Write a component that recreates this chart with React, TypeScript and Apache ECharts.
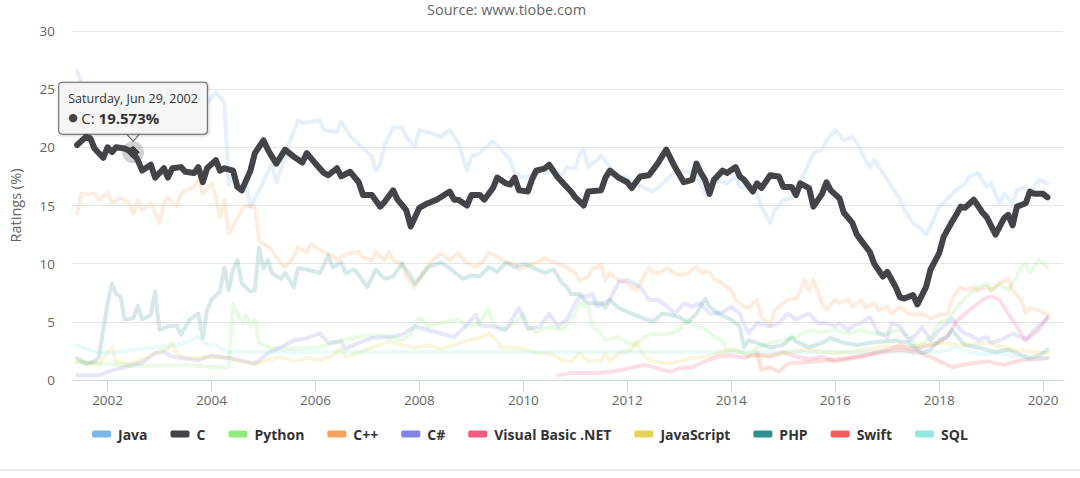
import React, { useEffect, useRef } from "react";
import * as echarts from "echarts";

const SUBTITLE = "Source: www.tiobe.com";
const Y_TITLE = "Ratings (%)";
const TOOLTIP_DATE = "Saturday, Jun 29, 2002";
const TOOLTIP_SERIES = "C";
const TOOLTIP_POINT: [string, number] = ["2002-06-29", 19.573];
const TICK_YEARS = [2002, 2004, 2006, 2008, 2010, 2012, 2014, 2016, 2018, 2020];
const X_MIN = "2001-04-26";
const X_MAX = "2020-05-20";
const Y_MIN = 0;
const Y_MAX = 30;
const Y_STEP = 5;

const NAMES = ["Java", "C", "Python", "C++", "C#", "Visual Basic .NET", "JavaScript", "PHP", "Swift", "SQL"];
const COLORS = ["#7cb5ec", "#434348", "#90ed7d", "#f7a35c", "#8085e9", "#f15c80", "#e4d354", "#2b908f", "#f45b5b", "#91e8e1"];

type P = [string, number];

const JAVA: P[] = [
  ["2001-06", 26.6], ["2001-07", 25.5], ["2001-10", 24.8], ["2002-02", 24.4], ["2002-07", 23.9], ["2002-12", 24.2],
  ["2003-05", 24.6], ["2003-09", 24.0], ["2003-11", 24.4], ["2003-12", 23.8], ["2004-02", 24.7], ["2004-03", 24.3],
  ["2004-04", 23.8], ["2004-05", 16.8], ["2004-06", 17.5], ["2004-08", 16.4], ["2004-09", 16.9], ["2004-10", 14.9],
  ["2004-12", 16.3], ["2005-03", 18.6], ["2005-04", 17.0], ["2005-05", 18.0], ["2005-07", 20.4], ["2005-09", 22.3],
  ["2005-10", 22.1], ["2005-12", 22.2], ["2006-02", 22.3], ["2006-03", 21.5], ["2006-06", 21.3], ["2006-07", 22.2],
  ["2006-09", 21.0], ["2006-12", 19.9], ["2007-02", 19.2], ["2007-03", 18.0], ["2007-04", 18.6], ["2007-05", 20.2],
  ["2007-07", 21.7], ["2007-09", 21.7], ["2007-10", 20.9], ["2007-12", 20.0], ["2008-01", 21.5], ["2008-04", 21.2],
  ["2008-06", 20.9], ["2008-08", 21.5], ["2008-09", 20.9], ["2008-10", 20.4], ["2008-12", 18.0], ["2009-01", 19.2],
  ["2009-03", 19.5], ["2009-04", 19.9], ["2009-06", 20.5], ["2009-08", 19.8], ["2009-10", 18.9], ["2009-11", 17.8],
  ["2010-01", 17.4], ["2010-03", 17.6], ["2010-04", 18.0], ["2010-06", 17.8], ["2010-07", 18.0], ["2010-10", 17.6],
  ["2010-11", 18.3], ["2011-01", 18.2], ["2011-02", 19.4], ["2011-03", 19.8], ["2011-04", 18.3], ["2011-06", 18.9],
  ["2011-07", 19.3], ["2011-09", 18.3], ["2011-11", 17.5], ["2012-01", 17.4], ["2012-03", 16.9], ["2012-05", 16.5],
  ["2012-07", 16.2], ["2012-10", 17.2], ["2012-12", 17.9], ["2013-02", 18.0], ["2013-05", 17.6], ["2013-07", 16.0],
  ["2013-08", 16.2], ["2013-10", 17.2], ["2013-12", 16.9], ["2014-02", 17.5], ["2014-03", 16.6], ["2014-06", 16.5],
  ["2014-07", 16.0], ["2014-08", 14.9], ["2014-10", 13.5], ["2014-11", 14.6], ["2015-01", 15.5], ["2015-03", 15.6],
  ["2015-04", 16.6], ["2015-06", 17.8], ["2015-08", 19.5], ["2015-10", 19.8], ["2015-11", 20.6], ["2016-01", 21.5],
  ["2016-03", 20.6], ["2016-05", 20.9], ["2016-06", 20.4], ["2016-08", 18.9], ["2016-09", 18.3], ["2016-10", 18.9],
  ["2016-12", 17.8], ["2017-02", 16.6], ["2017-04", 15.5], ["2017-05", 14.6], ["2017-07", 13.5], ["2017-09", 12.9],
  ["2017-10", 12.5], ["2017-11", 13.2], ["2018-01", 14.9], ["2018-02", 15.2], ["2018-04", 16.0], ["2018-05", 16.3],
  ["2018-07", 16.9], ["2018-08", 17.5], ["2018-10", 17.8], ["2018-12", 16.6], ["2019-01", 16.9], ["2019-03", 15.2],
  ["2019-04", 16.0], ["2019-06", 15.2], ["2019-07", 16.3], ["2019-09", 16.6], ["2019-10", 16.0], ["2019-12", 17.2],
  ["2020-02", 16.9],
];

const C_LANG: P[] = [
  ["2001-06", 20.2], ["2001-08", 20.9], ["2001-09", 20.8], ["2001-10", 19.9], ["2001-12", 19.1], ["2002-01", 20.0],
  ["2002-02", 19.6], ["2002-03", 20.0], ["2002-05", 19.9], ["2002-06-29", 19.573], ["2002-08", 18.9], ["2002-09", 18.0],
  ["2002-11", 18.5], ["2002-12", 17.4], ["2003-02", 18.2], ["2003-03", 17.4], ["2003-04", 18.2], ["2003-06", 18.3],
  ["2003-07", 17.9], ["2003-09", 17.8], ["2003-10", 18.3], ["2003-11", 17.0], ["2003-12", 18.2], ["2004-02", 18.9],
  ["2004-03", 18.0], ["2004-04", 18.2], ["2004-06", 18.0], ["2004-07", 16.6], ["2004-08", 16.3], ["2004-10", 18.0],
  ["2004-11", 19.5], ["2005-01", 20.6], ["2005-02", 19.8], ["2005-03", 19.2], ["2005-04", 18.6], ["2005-06", 19.8],
  ["2005-08", 19.2], ["2005-10", 18.7], ["2005-11", 19.5], ["2006-01", 18.6], ["2006-03", 17.8], ["2006-04", 17.6],
  ["2006-06", 18.2], ["2006-07", 17.5], ["2006-09", 17.9], ["2006-11", 17.0], ["2006-12", 15.9], ["2007-02", 15.9],
  ["2007-04", 14.9], ["2007-05", 15.3], ["2007-07", 16.3], ["2007-08", 15.5], ["2007-10", 14.6], ["2007-11", 13.2],
  ["2008-01", 14.8], ["2008-03", 15.2], ["2008-05", 15.5], ["2008-08", 16.2], ["2008-09", 15.5], ["2008-10", 15.5],
  ["2008-12", 15.0], ["2009-01", 15.9], ["2009-03", 15.9], ["2009-04", 15.5], ["2009-06", 16.5], ["2009-07", 17.4],
  ["2009-09", 16.9], ["2009-10", 16.8], ["2009-11", 17.4], ["2009-12", 16.3], ["2010-02", 16.2], ["2010-03", 17.2],
  ["2010-04", 18.0], ["2010-06", 18.2], ["2010-07", 18.5], ["2010-09", 17.4], ["2010-10", 17.0], ["2010-12", 16.2],
  ["2011-01", 15.7], ["2011-03", 15.0], ["2011-04", 16.2], ["2011-07", 16.3], ["2011-08", 17.4], ["2011-09", 18.0],
  ["2011-11", 17.4], ["2012-01", 17.0], ["2012-02", 16.5], ["2012-04", 17.5], ["2012-06", 17.6], ["2012-08", 18.6],
  ["2012-10", 19.8], ["2012-12", 18.3], ["2013-02", 17.0], ["2013-04", 17.2], ["2013-05", 18.6], ["2013-06", 17.8],
  ["2013-07", 17.2], ["2013-08", 16.0], ["2013-09", 17.2], ["2013-11", 18.0], ["2013-12", 17.8], ["2014-02", 18.3],
  ["2014-03", 17.5], ["2014-04", 17.2], ["2014-06", 16.2], ["2014-07", 16.9], ["2014-08", 16.5], ["2014-10", 17.6],
  ["2014-12", 17.5], ["2015-01", 16.6], ["2015-03", 16.6], ["2015-04", 15.9], ["2015-05", 16.9], ["2015-07", 16.5],
  ["2015-08", 14.9], ["2015-10", 16.0], ["2015-11", 17.0], ["2015-12", 16.3], ["2016-02", 15.6], ["2016-03", 14.4],
  ["2016-05", 13.5], ["2016-06", 12.5], ["2016-07", 12.0], ["2016-09", 11.0], ["2016-10", 10.0], ["2016-12", 8.9],
  ["2017-01", 9.3], ["2017-03", 8.0], ["2017-04", 7.1], ["2017-05", 7.0], ["2017-07", 7.3], ["2017-08", 6.5],
  ["2017-10", 8.0], ["2017-11", 9.5], ["2018-01", 10.9], ["2018-02", 12.3], ["2018-04", 13.6], ["2018-05", 14.2],
  ["2018-06", 14.9], ["2018-07", 14.8], ["2018-09", 15.5], ["2018-11", 14.4], ["2018-12", 14.0], ["2019-02", 12.5],
  ["2019-04", 13.9], ["2019-05", 14.2], ["2019-06", 13.3], ["2019-07", 14.9], ["2019-09", 15.2], ["2019-10", 16.2],
  ["2019-11", 16.0], ["2020-01", 16.0], ["2020-02", 15.7],
];

const PYTHON: P[] = [
  ["2001-06", 1.5], ["2001-11", 1.4], ["2002-09", 1.2], ["2003-07", 1.3], ["2004-02", 1.1], ["2004-05", 1.1],
  ["2004-06", 6.6], ["2004-08", 4.9], ["2004-09", 5.6], ["2004-10", 4.6], ["2004-11", 5.2], ["2004-12", 3.2],
  ["2005-03", 2.7], ["2005-08", 2.7], ["2006-02", 2.8], ["2006-07", 3.4], ["2006-11", 3.7], ["2007-04", 3.9],
  ["2007-09", 3.4], ["2007-11", 4.0], ["2008-01", 5.4], ["2008-03", 4.6], ["2008-07", 5.0], ["2008-10", 5.2],
  ["2008-12", 4.6], ["2009-03", 4.9], ["2009-05", 6.2], ["2009-06", 4.9], ["2009-08", 4.3], ["2009-11", 4.9],
  ["2010-01", 5.7], ["2010-02", 4.6], ["2010-04", 4.1], ["2010-07", 4.6], ["2010-10", 4.3], ["2011-01", 5.7],
  ["2011-02", 6.6], ["2011-04", 6.3], ["2011-05", 4.6], ["2011-07", 4.0], ["2011-08", 3.4], ["2011-11", 3.7],
  ["2012-01", 3.2], ["2012-03", 3.0], ["2012-05", 3.7], ["2012-07", 4.0], ["2012-09", 3.9], ["2012-11", 4.0],
  ["2013-01", 4.3], ["2013-03", 5.2], ["2013-05", 4.6], ["2013-07", 4.4], ["2013-09", 3.7], ["2013-11", 3.3],
  ["2013-12", 2.6], ["2014-02", 2.6], ["2014-04", 2.3], ["2014-05", 2.0], ["2014-07", 2.8], ["2014-10", 3.2],
  ["2015-01", 3.4], ["2015-04", 3.7], ["2015-07", 4.3], ["2015-10", 4.1], ["2016-01", 4.3], ["2016-04", 4.0],
  ["2016-07", 4.3], ["2016-10", 4.0], ["2017-01", 4.0], ["2017-04", 4.3], ["2017-07", 3.4], ["2017-08", 2.8],
  ["2017-11", 3.7], ["2018-01", 4.9], ["2018-03", 5.2], ["2018-04", 5.7], ["2018-06", 6.6], ["2018-08", 7.4],
  ["2018-09", 7.7], ["2018-12", 8.3], ["2019-01", 7.7], ["2019-03", 8.3], ["2019-05", 7.7], ["2019-07", 8.9],
  ["2019-08", 9.7], ["2019-09", 10.0], ["2019-10", 9.2], ["2019-12", 10.3], ["2020-02", 9.7],
];

const CPP: P[] = [
  ["2001-06", 14.3], ["2001-07", 16.0], ["2001-10", 16.0], ["2001-11", 15.5], ["2002-01", 16.1], ["2002-02", 15.2],
  ["2002-04", 15.7], ["2002-06", 15.2], ["2002-07", 14.3], ["2002-08", 15.5], ["2002-09", 14.6], ["2002-11", 15.2],
  ["2003-01", 13.5], ["2003-02", 15.2], ["2003-03", 15.7], ["2003-05", 14.9], ["2003-06", 16.0], ["2003-07", 16.3],
  ["2003-09", 16.6], ["2003-10", 17.2], ["2003-11", 16.0], ["2004-01", 16.9], ["2004-02", 15.7], ["2004-03", 14.0],
  ["2004-04", 15.5], ["2004-05", 12.6], ["2004-06", 13.2], ["2004-08", 14.6], ["2004-09", 15.0], ["2004-11", 14.9],
  ["2004-12", 12.0], ["2005-01", 11.7], ["2005-03", 11.2], ["2005-05", 10.0], ["2005-06", 9.7], ["2005-08", 10.6],
  ["2005-09", 11.4], ["2005-11", 11.0], ["2005-12", 11.7], ["2006-02", 11.2], ["2006-03", 11.0], ["2006-05", 10.7],
  ["2006-06", 10.3], ["2006-07", 10.6], ["2006-09", 10.9], ["2006-11", 11.0], ["2006-12", 10.5], ["2007-02", 10.3],
  ["2007-03", 11.0], ["2007-05", 10.3], ["2007-06", 11.0], ["2007-07", 10.3], ["2007-09", 10.0], ["2007-10", 8.9],
  ["2007-12", 8.0], ["2008-02", 9.2], ["2008-04", 10.3], ["2008-06", 10.9], ["2008-08", 10.3], ["2008-10", 10.9],
  ["2008-12", 10.0], ["2009-02", 9.7], ["2009-04", 10.3], ["2009-05", 11.0], ["2009-07", 10.6], ["2009-09", 10.1],
  ["2009-11", 10.0], ["2009-12", 9.5], ["2010-02", 9.9], ["2010-04", 10.1], ["2010-06", 10.5], ["2010-07", 10.3],
  ["2010-09", 10.0], ["2010-10", 9.9], ["2011-01", 9.2], ["2011-02", 8.5], ["2011-04", 8.9], ["2011-05", 9.6],
  ["2011-07", 9.9], ["2011-08", 8.6], ["2011-09", 9.2], ["2011-11", 8.6], ["2012-01", 8.3], ["2012-03", 7.7],
  ["2012-04", 8.3], ["2012-06", 9.7], ["2012-07", 9.2], ["2012-09", 9.3], ["2012-10", 9.6], ["2012-12", 9.2],
  ["2013-01", 9.0], ["2013-03", 9.2], ["2013-05", 9.7], ["2013-06", 9.3], ["2013-08", 9.3], ["2013-09", 8.7],
  ["2013-11", 8.3], ["2014-01", 7.7], ["2014-02", 6.9], ["2014-04", 6.3], ["2014-05", 6.2], ["2014-07", 6.9],
  ["2014-08", 5.4], ["2014-10", 4.7], ["2014-11", 6.0], ["2014-12", 6.3], ["2015-02", 6.9], ["2015-04", 7.0],
  ["2015-05", 7.7], ["2015-06", 8.6], ["2015-07", 7.7], ["2015-08", 8.6], ["2015-10", 6.6], ["2015-11", 6.0],
  ["2016-01", 6.9], ["2016-02", 6.6], ["2016-04", 6.9], ["2016-05", 6.3], ["2016-07", 6.9], ["2016-08", 6.2],
  ["2016-10", 6.6], ["2016-11", 6.0], ["2017-01", 6.3], ["2017-02", 5.7], ["2017-04", 6.3], ["2017-06", 5.7],
  ["2017-07", 5.6], ["2017-09", 5.7], ["2017-11", 5.3], ["2018-01", 5.6], ["2018-03", 5.7], ["2018-04", 6.9],
  ["2018-06", 8.0], ["2018-07", 7.7], ["2018-09", 8.0], ["2018-10", 7.7], ["2018-12", 8.0], ["2019-01", 7.7],
  ["2019-03", 8.3], ["2019-05", 8.7], ["2019-06", 7.7], ["2019-08", 6.9], ["2019-09", 5.7], ["2019-10", 6.2],
  ["2019-12", 6.0], ["2020-02", 5.6],
];

const CSHARP: P[] = [
  ["2001-06", 0.4], ["2001-11", 0.4], ["2002-01", 0.7], ["2002-05", 1.1], ["2002-09", 1.5], ["2002-12", 2.3],
  ["2003-02", 2.4], ["2003-04", 2.0], ["2003-06", 1.9], ["2003-10", 1.7], ["2004-01", 2.1], ["2004-05", 1.9],
  ["2004-11", 1.4], ["2005-02", 2.3], ["2005-05", 2.8], ["2005-08", 3.4], ["2005-11", 3.6], ["2006-02", 4.0],
  ["2006-04", 3.2], ["2006-07", 3.3], ["2006-08", 2.7], ["2006-11", 3.2], ["2007-02", 3.6], ["2007-06", 3.7],
  ["2007-09", 3.9], ["2007-12", 4.6], ["2008-03", 4.3], ["2008-06", 4.0], ["2008-09", 3.7], ["2008-11", 4.4],
  ["2009-02", 5.6], ["2009-03", 4.7], ["2009-06", 4.6], ["2009-09", 4.3], ["2009-12", 6.2], ["2010-02", 4.4],
  ["2010-05", 4.6], ["2010-07", 5.7], ["2010-09", 4.6], ["2010-11", 5.2], ["2011-01", 6.6], ["2011-02", 7.2],
  ["2011-04", 7.2], ["2011-05", 7.4], ["2011-06", 6.3], ["2011-09", 6.9], ["2011-11", 8.4], ["2012-01", 8.6],
  ["2012-04", 8.0], ["2012-06", 6.9], ["2012-08", 6.9], ["2012-10", 6.4], ["2012-12", 5.7], ["2013-02", 6.6],
  ["2013-04", 6.3], ["2013-06", 6.6], ["2013-08", 5.7], ["2013-11", 5.8], ["2014-01", 6.3], ["2014-03", 5.7],
  ["2014-05", 4.0], ["2014-07", 4.9], ["2014-10", 4.6], ["2014-12", 4.9], ["2015-02", 5.7], ["2015-04", 5.2],
  ["2015-05", 5.4], ["2015-07", 5.7], ["2015-09", 4.9], ["2015-11", 4.9], ["2016-01", 4.6], ["2016-02", 4.9],
  ["2016-04", 4.3], ["2016-05", 4.6], ["2016-07", 4.9], ["2016-09", 5.4], ["2016-11", 4.0], ["2017-01", 3.7],
  ["2017-02", 4.9], ["2017-04", 4.6], ["2017-06", 3.4], ["2017-08", 4.0], ["2017-09", 4.6], ["2017-11", 3.4],
  ["2018-01", 4.3], ["2018-03", 4.9], ["2018-04", 5.3], ["2018-06", 4.3], ["2018-07", 4.0], ["2018-09", 3.7],
  ["2018-10", 3.4], ["2018-12", 3.7], ["2019-01", 3.2], ["2019-03", 3.4], ["2019-06", 4.0], ["2019-09", 3.5],
  ["2019-11", 4.3], ["2020-02", 5.3],
];

const VBNET: P[] = [
  ["2010-09", 0.4], ["2010-12", 0.6], ["2011-02", 0.6], ["2011-06", 0.6], ["2011-09", 0.7], ["2011-12", 0.9],
  ["2012-05", 1.3], ["2012-08", 1.0], ["2012-11", 0.7], ["2013-01", 1.0], ["2013-04", 1.1], ["2013-07", 1.6],
  ["2013-10", 2.0], ["2014-01", 2.1], ["2014-04", 1.9], ["2014-07", 2.2], ["2014-10", 2.0], ["2015-01", 2.4],
  ["2015-04", 2.0], ["2015-07", 1.8], ["2015-10", 2.0], ["2016-01", 1.6], ["2016-04", 1.8], ["2016-07", 2.0],
  ["2016-10", 2.3], ["2017-01", 2.6], ["2017-04", 3.0], ["2017-07", 2.6], ["2017-10", 2.9], ["2018-01", 3.2],
  ["2018-03", 3.8], ["2018-05", 5.0], ["2018-07", 5.7], ["2018-09", 6.3], ["2018-11", 6.9], ["2019-01", 7.2],
  ["2019-03", 6.9], ["2019-05", 5.7], ["2019-07", 4.6], ["2019-09", 3.4], ["2019-12", 4.3], ["2020-02", 5.4],
];

const JAVASCRIPT: P[] = [
  ["2001-06", 1.6], ["2001-11", 1.4], ["2002-02", 2.8], ["2002-03", 1.6], ["2002-06", 1.4], ["2002-09", 1.7],
  ["2002-12", 2.3], ["2003-03", 2.7], ["2003-04", 3.2], ["2003-05", 2.3], ["2003-07", 1.9], ["2003-10", 1.9],
  ["2004-01", 2.0], ["2004-05", 1.9], ["2004-08", 1.6], ["2004-11", 1.4], ["2005-02", 1.7], ["2005-05", 2.0],
  ["2005-08", 1.6], ["2005-11", 1.9], ["2006-02", 1.7], ["2006-05", 2.1], ["2006-07", 2.7], ["2006-08", 2.0],
  ["2006-11", 2.3], ["2007-02", 2.8], ["2007-06", 3.3], ["2007-09", 3.0], ["2007-12", 2.8], ["2008-03", 3.0],
  ["2008-06", 2.7], ["2008-09", 3.0], ["2008-12", 3.4], ["2009-03", 3.6], ["2009-05", 4.0], ["2009-07", 3.4],
  ["2009-08", 2.8], ["2009-11", 2.8], ["2010-02", 2.6], ["2010-04", 2.3], ["2010-07", 2.3], ["2010-10", 1.7],
  ["2010-12", 1.6], ["2011-02", 2.3], ["2011-04", 1.6], ["2011-07", 1.7], ["2011-08", 2.3], ["2011-09", 1.6],
  ["2011-11", 2.3], ["2012-02", 2.6], ["2012-03", 3.3], ["2012-05", 2.0], ["2012-07", 1.6], ["2012-10", 1.4],
  ["2013-01", 1.6], ["2013-04", 1.9], ["2013-07", 2.0], ["2013-10", 2.3], ["2014-01", 2.6], ["2014-04", 2.3],
  ["2014-08", 2.0], ["2015-01", 2.3], ["2015-06", 2.6], ["2016-01", 2.3], ["2016-06", 2.5], ["2017-01", 2.9],
  ["2017-06", 2.8], ["2018-01", 3.2], ["2018-06", 3.0], ["2018-12", 3.2], ["2019-06", 2.6], ["2020-02", 2.3],
];

const PHP: P[] = [
  ["2001-06", 1.9], ["2001-08", 1.4], ["2001-10", 1.6], ["2001-11", 2.0], ["2002-01", 6.6], ["2002-02", 8.3],
  ["2002-03", 7.4], ["2002-04", 7.2], ["2002-05", 5.2], ["2002-07", 5.3], ["2002-08", 6.4], ["2002-09", 5.2],
  ["2002-11", 5.6], ["2002-12", 7.6], ["2003-01", 4.3], ["2003-03", 4.6], ["2003-05", 4.7], ["2003-06", 3.9],
  ["2003-08", 5.2], ["2003-10", 5.7], ["2003-11", 3.6], ["2003-12", 6.0], ["2004-01", 6.9], ["2004-03", 7.6],
  ["2004-04", 9.7], ["2004-05", 7.7], ["2004-06", 9.5], ["2004-07", 10.3], ["2004-08", 8.3], ["2004-10", 7.6],
  ["2004-11", 7.7], ["2004-12", 11.4], ["2005-01", 9.6], ["2005-02", 10.3], ["2005-03", 9.2], ["2005-05", 8.7],
  ["2005-06", 9.2], ["2005-08", 8.0], ["2005-09", 9.6], ["2005-11", 9.5], ["2006-02", 9.2], ["2006-04", 10.7],
  ["2006-05", 9.7], ["2006-07", 10.1], ["2006-08", 9.2], ["2006-10", 9.5], ["2007-01", 8.0], ["2007-03", 9.5],
  ["2007-05", 8.7], ["2007-07", 8.9], ["2007-09", 10.0], ["2007-11", 8.9], ["2007-12", 8.3], ["2008-03", 9.7],
  ["2008-06", 10.1], ["2008-08", 9.6], ["2008-11", 8.7], ["2009-01", 9.0], ["2009-03", 8.9], ["2009-05", 9.7],
  ["2009-07", 9.3], ["2009-09", 10.1], ["2009-11", 9.7], ["2010-01", 10.0], ["2010-03", 9.7], ["2010-06", 9.2],
  ["2010-08", 9.5], ["2010-10", 8.3], ["2010-11", 8.0], ["2010-12", 7.4], ["2011-02", 7.4], ["2011-03", 6.9],
  ["2011-04", 6.6], ["2011-07", 6.6], ["2011-08", 6.2], ["2011-09", 6.9], ["2011-11", 6.2], ["2012-02", 5.7],
  ["2012-04", 5.4], ["2012-07", 5.0], ["2012-09", 5.7], ["2012-11", 5.6], ["2013-01", 5.4], ["2013-03", 4.9],
  ["2013-05", 5.7], ["2013-07", 7.0], ["2013-08", 6.3], ["2013-10", 5.7], ["2014-01", 5.2], ["2014-03", 4.6],
  ["2014-04", 2.8], ["2014-05", 3.4], ["2014-07", 3.2], ["2014-10", 2.8], ["2015-01", 3.0], ["2015-03", 3.7],
  ["2015-04", 3.3], ["2015-07", 2.8], ["2015-10", 3.2], ["2015-12", 3.6], ["2016-03", 3.2], ["2016-06", 3.0],
  ["2016-09", 3.2], ["2016-12", 3.3], ["2017-03", 3.4], ["2017-06", 3.2], ["2017-08", 2.6], ["2017-09", 2.3],
  ["2017-11", 2.6], ["2018-01", 3.4], ["2018-03", 3.7], ["2018-04", 4.3], ["2018-06", 3.4], ["2018-07", 3.0],
  ["2018-10", 2.8], ["2018-12", 2.6], ["2019-02", 2.4], ["2019-05", 2.6], ["2019-07", 2.3], ["2019-09", 2.0],
  ["2019-10", 1.9], ["2019-12", 2.1], ["2020-02", 2.6],
];

const SWIFT: P[] = [
  ["2014-07", 2.3], ["2014-08", 0.9], ["2014-10", 1.1], ["2014-12", 0.7], ["2015-02", 1.4], ["2015-08", 1.6],
  ["2016-04", 1.9], ["2016-10", 2.3], ["2017-04", 2.6], ["2017-09", 2.3], ["2017-12", 1.8], ["2018-04", 1.1],
  ["2018-08", 1.4], ["2018-12", 1.6], ["2019-04", 1.3], ["2019-08", 1.7], ["2020-02", 1.9],
];

const SQL: P[] = [
  ["2001-06", 3.0], ["2001-10", 2.4], ["2002-02", 2.3], ["2002-07", 2.6], ["2002-12", 2.8], ["2003-05", 3.0],
  ["2003-07", 3.2], ["2003-10", 3.7], ["2003-12", 3.0], ["2004-02", 3.0], ["2004-05", 2.4], ["2018-01", 2.4],
  ["2018-03", 2.6], ["2018-05", 2.8], ["2018-08", 2.4], ["2018-11", 2.2], ["2019-03", 2.3], ["2019-07", 2.0],
  ["2019-10", 1.8], ["2020-02", 1.9],
];

const SERIES_DATA: P[][] = [JAVA, C_LANG, PYTHON, CPP, CSHARP, VBNET, JAVASCRIPT, PHP, SWIFT, SQL];

const FONT = "'Open Sans', 'Liberation Sans', sans-serif";

function toTime(s: string): number {
  const [y, m, d] = s.split("-").map(Number);
  return new Date(y, (m || 1) - 1, d || 1).getTime();
}

export default function App() {
  const ref = useRef<HTMLDivElement>(null);

  useEffect(() => {
    if (!ref.current) return;
    const chart = echarts.init(ref.current, null, { renderer: "svg" });
    const tickValues = TICK_YEARS.map((y) => toTime(`${y}-01-01`));
    const tipCoord = [toTime(TOOLTIP_POINT[0]), TOOLTIP_POINT[1]];

    const series: any[] = NAMES.map((name, i) => {
      const active = name === TOOLTIP_SERIES;
      const s: any = {
        name,
        type: "line",
        data: SERIES_DATA[i].map(([d, v]) => [toTime(d), v]),
        showSymbol: false,
        symbol: "none",
        silent: true,
        z: active ? 5 : 2,
        itemStyle: { color: COLORS[i] },
        lineStyle: {
          color: COLORS[i],
          width: active ? 6 : 4,
          opacity: active ? 1 : 0.2,
          join: "round",
          cap: "round",
        },
        emphasis: { disabled: true },
      };
      if (active) {
        s.markPoint = {
          silent: true,
          animation: false,
          data: [
            {
              coord: tipCoord,
              symbol: "circle",
              symbolSize: 22,
              itemStyle: { color: "rgba(67,67,72,0.25)" },
              label: { show: false },
            },
            {
              coord: tipCoord,
              symbol: "triangle",
              symbolRotate: 180,
              symbolSize: [14, 8],
              symbolOffset: [0, -15],
              itemStyle: { color: "rgba(247,247,247,1)", borderColor: "#666666", borderWidth: 1 },
              label: { show: false },
            },
            {
              coord: tipCoord,
              symbol: "diamond",
              symbolSize: 12,
              itemStyle: { color: COLORS[i], borderColor: "#222222", borderWidth: 1 },
              label: {
                show: true,
                position: "top",
                distance: 12,
                backgroundColor: "rgba(247,247,247,0.92)",
                borderColor: "#666666",
                borderWidth: 1,
                borderRadius: 3,
                padding: [7, 9, 6, 9],
                shadowColor: "rgba(0,0,0,0.2)",
                shadowBlur: 3,
                shadowOffsetX: 1,
                shadowOffsetY: 1,
                formatter: `{d|${TOOLTIP_DATE}}\n{b|● }{n|${TOOLTIP_SERIES}: }{v|${TOOLTIP_POINT[1].toFixed(3)}%}`,
                rich: {
                  d: { fontFamily: FONT, fontSize: 12.5, color: "#333333", lineHeight: 18, align: "left" },
                  b: { fontFamily: "'DejaVu Sans', sans-serif", fontSize: 11, color: COLORS[i], lineHeight: 20, align: "left" },
                  n: { fontFamily: FONT, fontSize: 15, color: "#333333", lineHeight: 20, align: "left" },
                  v: { fontFamily: FONT, fontSize: 15, fontWeight: "bold", color: "#333333", lineHeight: 20, align: "left" },
                },
              },
            },
          ],
        };
      }
      return s;
    });

    chart.setOption({
      animation: false,
      textStyle: { fontFamily: FONT },
      title: {
        text: SUBTITLE,
        left: 427,
        top: 0,
        padding: 0,
        textStyle: { fontFamily: FONT, fontSize: 14.5, lineHeight: 18, fontWeight: "normal", color: "#666666" },
      },
      grid: { left: 72, right: 17, top: 31, bottom: 98, containLabel: false },
      legend: {
        data: NAMES,
        left: 92,
        top: 427,
        padding: 0,
        itemGap: 23,
        itemWidth: 19,
        itemHeight: 7,
        icon: "roundRect",
        selectedMode: false,
        textStyle: { fontFamily: FONT, fontSize: 14, fontWeight: "bold", color: "#333333", padding: [0, 0, 0, 2] },
      },
      xAxis: {
        type: "value",
        min: toTime(X_MIN),
        max: toTime(X_MAX),
        axisLine: { show: true, lineStyle: { color: "#ccd6eb", width: 1 } },
        axisTick: { show: true, customValues: tickValues, length: 12, lineStyle: { color: "#ccd6eb" } },
        axisLabel: {
          customValues: tickValues,
          formatter: (v: number) => String(new Date(v).getFullYear()),
          color: "#666666",
          fontSize: 13.5,
          margin: 13,
          fontFamily: FONT,
        },
        splitLine: { show: false },
      },
      yAxis: {
        type: "value",
        min: Y_MIN,
        max: Y_MAX,
        interval: Y_STEP,
        name: Y_TITLE,
        nameLocation: "middle",
        nameGap: 49,
        nameRotate: 90,
        nameTextStyle: { color: "#666666", fontSize: 14.5, fontFamily: FONT },
        axisLine: { show: false },
        axisTick: { show: false },
        axisLabel: { color: "#666666", fontSize: 13.5, margin: 17, fontFamily: FONT },
        splitLine: { lineStyle: { color: "#e6e6e6", width: 1 } },
      },
      graphic: [
        {
          type: "rect",
          silent: true,
          shape: { x: 0, y: 469, width: 1080, height: 2 },
          style: { fill: "#e6e6e6" },
        },
      ],
      series,
    });

    return () => chart.dispose();
  }, []);

  return (
    <div
      ref={ref}
      style={{ position: "fixed", left: 0, top: 0, width: 1080, height: 478, background: "#ffffff" }}
    />
  );
}
